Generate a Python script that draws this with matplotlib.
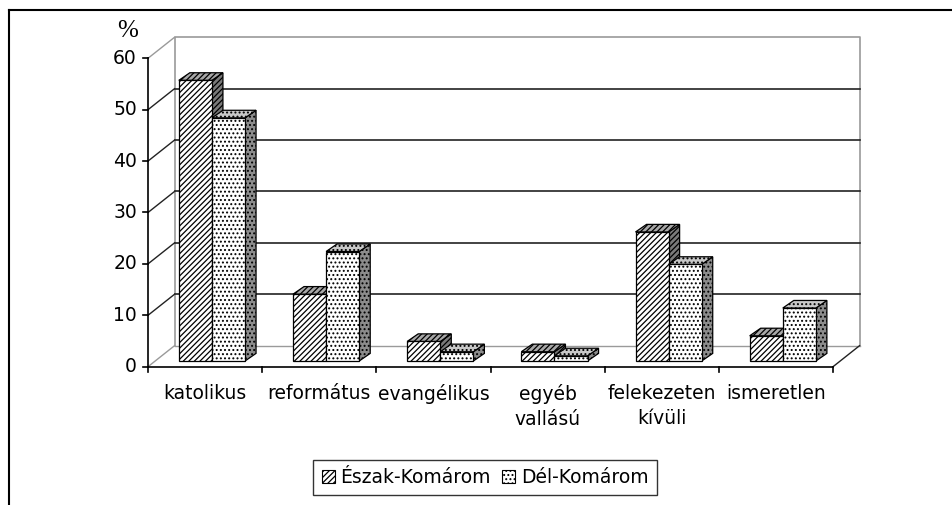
import matplotlib.pyplot as plt
from matplotlib.patches import Polygon, Patch
import numpy as np

categories = ['katolikus', 'református', 'evangélikus', 'egyéb\nvallású', 'felekezeten\nkívüli', 'ismeretlen']
eszak = [54.6, 13.0, 3.8, 1.8, 25.1, 4.9]
del_k = [47.3, 21.3, 1.8, 1.0, 18.8, 10.3]
yticks = [0, 10, 20, 30, 40, 50, 60]
series = ['Észak-Komárom', 'Dél-Komárom']

plt.rcParams['hatch.linewidth'] = 0.9

W, H = 952, 505
fig = plt.figure(figsize=(W / 100, H / 100), dpi=100)
ax = fig.add_axes([0, 0, 1, 1])
ax.set_axis_off()

# pixel scale of the chart (front plane)
x0px, y0px = 148, 366.7
PX = 114.17       # px per category
PY = 5.14         # px per percent
ax.set_xlim(-x0px / PX, (W - x0px) / PX)
ax.set_ylim(-(H - y0px) / PY, y0px / PY)

WX, WY = 26.5 / PX, 21 / PY      # wall depth
BY = 5.7 / PY                    # bars sit a little behind the front edge
DX, DY = 11 / PX, 7.6 / PY       # bar depth
n = len(categories)
top = yticks[-1]

gray = '#9a9a9a'
# back wall and floor
ax.plot([WX, WX, n + WX, n + WX], [WY, top + WY, top + WY, WY], color=gray, lw=1.2, zorder=1)
ax.plot([WX, n + WX], [WY, WY], color=gray, lw=1.0, zorder=1)
for v in yticks[1:-1]:
    ax.plot([WX, n + WX], [v + WY, v + WY], color='#222222', lw=1.2, zorder=1)
    ax.plot([0, WX], [v, v + WY], color='#222222', lw=1.0, zorder=1)
ax.plot([0, WX], [0, WY], color=gray, lw=1.0, zorder=1)
ax.plot([0, WX], [top, top + WY], color=gray, lw=1.0, zorder=1)
ax.plot([n, n + WX], [0, WY], color='#222222', lw=1.0, zorder=1)

# front axes
ax.plot([0, 0], [0, top], color='black', lw=1.2, zorder=5)
ax.plot([0, n], [0, 0], color='black', lw=1.2, zorder=5)
for v in yticks:
    ax.plot([-5 / PX, 0], [v, v], color='black', lw=1.2, zorder=5)
    ax.text(-11 / PX, v, str(v), ha='right', va='center', fontsize=13.5, family='DejaVu Sans')
for i in range(n + 1):
    ax.plot([i, i], [0, -5 / PY], color='black', lw=1.2, zorder=5)
for i, c in enumerate(categories):
    ax.text(i + 0.5, -17 / PY, c, ha='center', va='top', fontsize=13.5,
            family='DejaVu Sans', linespacing=1.45)

ax.text(-20 / PX, 60 + WY - 1, '%', ha='center', va='bottom', fontsize=18, family='Liberation Serif')

styles = [
    dict(offset=0.27, hatch='//////', front='white', side='#7a7a7a', topc='#a8a8a8'),
    dict(offset=0.56, hatch='....', front='white', side='#8c8c8c', topc='#c8c8c8'),
]
bw = 0.29
z = 10
for i in range(n):
    for vals, st in zip([eszak, del_k], styles):
        h = vals[i]
        x = i + st['offset']
        side = [(x + bw, BY), (x + bw + DX, BY + DY), (x + bw + DX, BY + h + DY), (x + bw, BY + h)]
        topf = [(x, BY + h), (x + DX, BY + h + DY), (x + bw + DX, BY + h + DY), (x + bw, BY + h)]
        ax.add_patch(Polygon(side, closed=True, facecolor=st['side'], edgecolor='black',
                             hatch=st['hatch'], lw=0.9, zorder=z))
        ax.add_patch(Polygon(topf, closed=True, facecolor=st['topc'], edgecolor='black',
                             hatch=st['hatch'], lw=0.9, zorder=z))
        ax.bar(x, h, bw, bottom=BY, align='edge', facecolor=st['front'], edgecolor='black',
               hatch=st['hatch'], lw=0.9, zorder=z + 1)
        z += 2

handles = [Patch(facecolor='white', edgecolor='black', hatch=st['hatch'], lw=0.8) for st in styles]
leg = fig.legend(handles, series, loc='center', bbox_to_anchor=(485 / W, 1 - 477.5 / H),
                 ncol=2, fancybox=False, frameon=True, handlelength=0.7, handleheight=0.7,
                 handletextpad=0.3, columnspacing=0.6, borderpad=0.45,
                 prop={'family': 'DejaVu Sans', 'size': 13.5})
leg.get_frame().set_edgecolor('black')
leg.get_frame().set_linewidth(1.0)

# outer frame fragments
fig.add_artist(plt.Line2D([9 / W, 1], [1 - 10 / H, 1 - 10 / H], color='black', lw=1.5))
fig.add_artist(plt.Line2D([9 / W, 9 / W], [0, 1 - 10 / H], color='black', lw=1.5))

fig.savefig('out.png', dpi=100)
